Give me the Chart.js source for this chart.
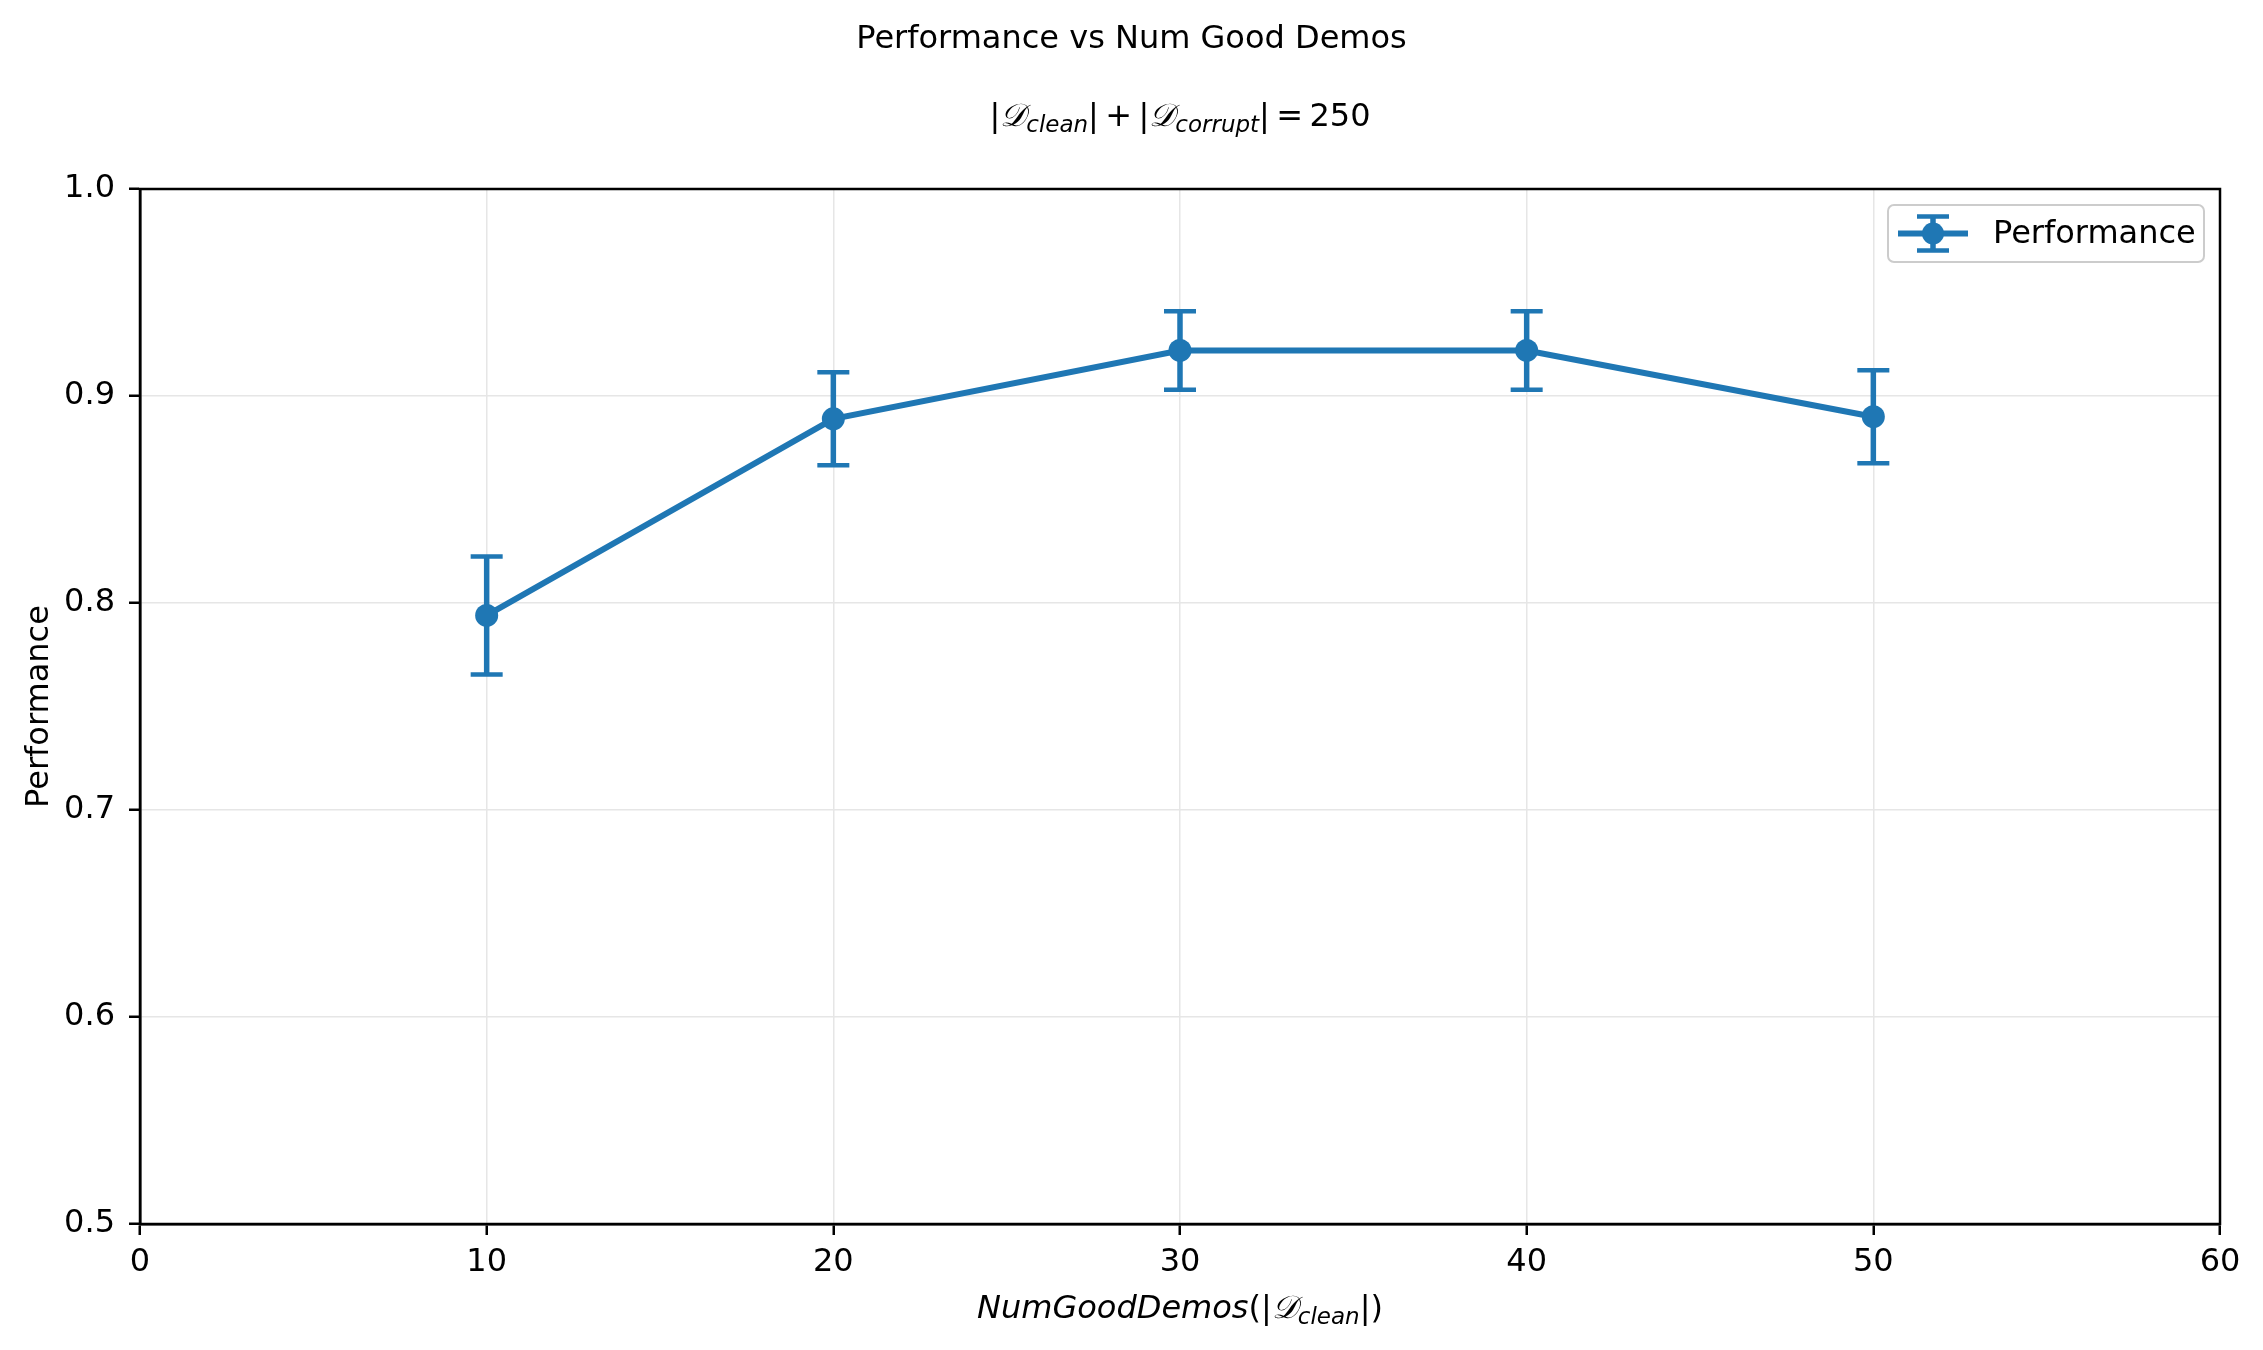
<!DOCTYPE html>
<html><head><meta charset="utf-8">
<script src="https://cdn.jsdelivr.net/npm/chart.js@4/dist/chart.umd.min.js"></script>
<style>html,body{margin:0;padding:0;background:#fff;} #wrap{width:2263px;height:1350px;position:relative;}</style>
</head><body><div id="wrap"><canvas id="c" width="2263" height="1350"></canvas></div>
<script>
// ---- data ----
const numGoodDemos = [10, 20, 30, 40, 50];
const performance = [0.794, 0.889, 0.922, 0.922, 0.890];
const performanceErr = [0.0285, 0.0225, 0.019, 0.019, 0.0225];
const xTicks = [0, 10, 20, 30, 40, 50, 60];
const yTicks = [0.5, 0.6, 0.7, 0.8, 0.9, 1.0];
const seriesLabel = 'Performance';
const figTitle = 'Performance vs Num Good Demos';
const yTitle = 'Performance';

const BLUE = '#1f77b4';
const FS = 32;
const FONT = '"DejaVu Sans", sans-serif';
const CAL = '\u{1D49F}';
const TS = '\u2009';

function drawRich(ctx, segs, cx, baseY) {
  let total = 0;
  for (const s of segs) { ctx.font = s.font; s.w = ctx.measureText(s.t).width; total += s.w + (s.gap || 0); }
  let x = cx - total / 2;
  ctx.textAlign = 'left'; ctx.textBaseline = 'alphabetic'; ctx.fillStyle = '#000';
  for (const s of segs) { ctx.font = s.font; ctx.fillText(s.t, x, baseY + (s.dy || 0)); x += s.w + (s.gap || 0); }
}
const up = `${FS}px ${FONT}`;
const it = `oblique ${FS}px ${FONT}`;
const sub = `oblique 23px ${FONT}`;
const cal = `italic 32px "DejaVu Serif", serif`;

const subtitleSegs = () => [
  {t:'|', font:up}, {t:CAL, font:cal}, {t:'clean', font:sub, dy:6}, {t:'|', font:up},
  {t:TS + '+' + TS, font:up}, {t:'|', font:up}, {t:CAL, font:cal}, {t:'corrupt', font:sub, dy:6}, {t:'|', font:up},
  {t:TS + '=' + TS, font:up}, {t:'250', font:up}
];
const xLabelSegs = () => [
  {t:'NumGoodDemos', font:it}, {t:'(|', font:up}, {t:CAL, font:cal}, {t:'clean', font:sub, dy:6}, {t:'|)', font:up}
];

const decor = {
  id: 'decor',
  beforeDatasetsDraw(chart) {
    const ctx = chart.ctx, xs = chart.scales.x, ys = chart.scales.y;
    ctx.save();
    ctx.strokeStyle = BLUE; ctx.lineCap = 'butt';
    numGoodDemos.forEach((xv, i) => {
      const px = xs.getPixelForValue(xv);
      const top = ys.getPixelForValue(performance[i] + performanceErr[i]);
      const bot = ys.getPixelForValue(performance[i] - performanceErr[i]);
      ctx.lineWidth = 5.5;
      ctx.beginPath(); ctx.moveTo(px, top); ctx.lineTo(px, bot); ctx.stroke();
      ctx.lineWidth = 4.5;
      ctx.beginPath(); ctx.moveTo(px - 16, top); ctx.lineTo(px + 16, top);
      ctx.moveTo(px - 16, bot); ctx.lineTo(px + 16, bot); ctx.stroke();
    });
    ctx.restore();
  },
  afterDraw(chart) {
    const ctx = chart.ctx, a = chart.chartArea;
    ctx.save();
    // spines
    ctx.strokeStyle = '#000'; ctx.lineWidth = 2.5;
    ctx.strokeRect(a.left, a.top, a.right - a.left, a.bottom - a.top);
    // titles
    ctx.fillStyle = '#000';
    ctx.font = up; ctx.textAlign = 'center'; ctx.textBaseline = 'alphabetic';
    ctx.fillText(figTitle, chart.width / 2, 48);
    const cx = (a.left + a.right) / 2;
    drawRich(ctx, subtitleSegs(), cx, 126);
    drawRich(ctx, xLabelSegs(), cx, 1318);
    // y title
    ctx.save();
    ctx.translate(40, (a.top + a.bottom) / 2);
    ctx.rotate(-Math.PI / 2);
    ctx.font = up; ctx.textAlign = 'center'; ctx.textBaseline = 'middle';
    ctx.fillText(yTitle, 0, 0);
    ctx.restore();
    // legend
    const lx = 1888, ly = 205, lw = 316, lh = 57;
    ctx.fillStyle = 'rgba(255,255,255,0.8)'; ctx.strokeStyle = '#cccccc'; ctx.lineWidth = 2;
    ctx.beginPath(); ctx.roundRect(lx, ly, lw, lh, 6); ctx.fill(); ctx.stroke();
    const gy = ly + lh / 2, gx = 1933;
    ctx.strokeStyle = BLUE; ctx.lineWidth = 6;
    ctx.beginPath(); ctx.moveTo(1898, gy); ctx.lineTo(1968, gy); ctx.stroke();
    ctx.lineWidth = 5.5;
    ctx.beginPath(); ctx.moveTo(gx, gy - 17); ctx.lineTo(gx, gy + 17); ctx.stroke();
    ctx.lineWidth = 4.5;
    ctx.beginPath(); ctx.moveTo(gx - 16, gy - 17); ctx.lineTo(gx + 16, gy - 17);
    ctx.moveTo(gx - 16, gy + 17); ctx.lineTo(gx + 16, gy + 17); ctx.stroke();
    ctx.fillStyle = BLUE; ctx.beginPath(); ctx.arc(gx, gy, 11, 0, Math.PI * 2); ctx.fill();
    ctx.fillStyle = '#000'; ctx.font = up; ctx.textAlign = 'left'; ctx.textBaseline = 'middle';
    ctx.fillText(chart.data.datasets[0].label, 1993, gy + 1);
    ctx.restore();
  }
};

new Chart(document.getElementById('c'), {
  type: 'line',
  data: {
    datasets: [{
      label: seriesLabel,
      data: numGoodDemos.map((x, i) => ({x, y: performance[i]})),
      borderColor: BLUE, backgroundColor: BLUE, borderWidth: 6,
      pointRadius: 11.5, pointBorderWidth: 0, pointBackgroundColor: BLUE, pointHoverRadius: 11.5,
      tension: 0, fill: false
    }]
  },
  options: {
    responsive: false, animation: false, devicePixelRatio: 1,
    layout: { padding: { left: 0, top: 189, right: 43, bottom: 0 } },
    plugins: { legend: { display: false }, title: { display: false }, tooltip: { enabled: false } },
    scales: {
      x: {
        type: 'linear', min: 0, max: 60,
        afterBuildTicks: s => { s.ticks = xTicks.map(v => ({value: v})); },
        afterFit: s => { s.height = 126; },
        ticks: { font: { family: 'DejaVu Sans', size: FS }, color: '#000', padding: 8, callback: v => String(v) },
        grid: { color: '#e6e6e6', lineWidth: 1.5, tickColor: '#000', tickLength: 11, tickWidth: 2.5 },
        border: { color: '#000', width: 2.5 }
      },
      y: {
        type: 'linear', min: 0.5, max: 1.0,
        afterBuildTicks: s => { s.ticks = yTicks.map(v => ({value: v})); },
        afterFit: s => { s.width = 140; },
        ticks: { font: { family: 'DejaVu Sans', size: FS }, color: '#000', padding: 14, callback: v => Number(v).toFixed(1) },
        grid: { color: '#e6e6e6', lineWidth: 1.5, tickColor: '#000', tickLength: 11, tickWidth: 2.5 },
        border: { color: '#000', width: 2.5 }
      }
    }
  },
  plugins: [decor]
});
</script></body></html>
